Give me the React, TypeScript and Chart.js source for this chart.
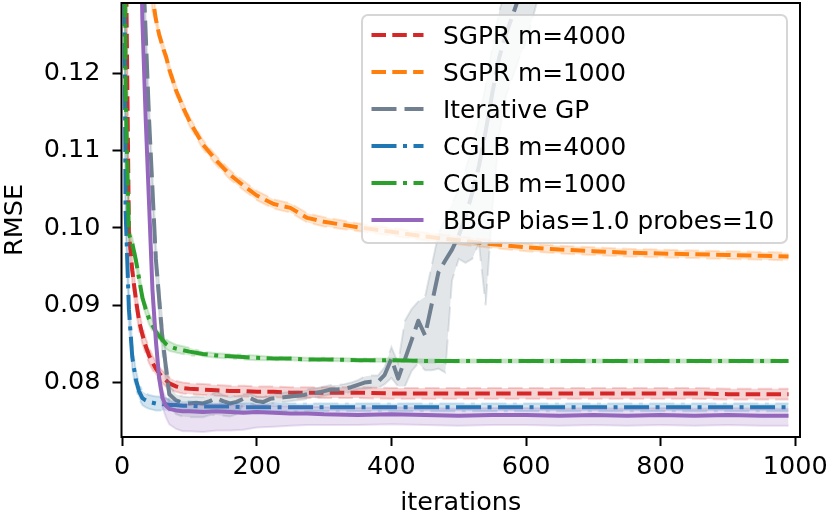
import { useEffect, useRef } from "react";
import { Chart, registerables } from "chart.js";

Chart.register(...registerables);

// shared iteration grid for the smooth curves
const iterations = [
  0, 5, 10, 15, 20, 25, 30, 35, 40, 45, 50, 55, 60, 65, 70, 80, 90, 100, 120, 140, 160, 180, 200,
  225, 250, 275, 300, 350, 400, 450, 500, 550, 600, 650, 700, 750, 800, 850, 900, 950, 990,
];

const sgpr4000Rmse = [
  0.3, 0.14, 0.0995, 0.0945, 0.091, 0.088, 0.0862, 0.0847, 0.0835, 0.0826,
  0.0818, 0.0812, 0.0807, 0.0803, 0.0799,
  0.0795, 0.0793, 0.0792,
  0.0791, 0.079, 0.0789, 0.0789, 0.0788,
  0.0788, 0.0787, 0.0787, 0.0787,
  0.0787, 0.0786, 0.0786, 0.0786, 0.0786, 0.0786,
  0.0786, 0.0786, 0.0786, 0.0786, 0.0786, 0.0785, 0.0785, 0.0785,
];
const sgpr4000Spread = [
  0.01, 0.004, 0.002, 0.0015, 0.0013, 0.0012, 0.0011, 0.001, 0.001, 0.0009,
  0.0009, 0.0008, 0.0008, 0.0008, 0.0008,
  0.0007, 0.0007, 0.0007,
  0.0007, 0.0007, 0.0007, 0.0007, 0.0007,
  0.0007, 0.0007, 0.0007, 0.0007,
  0.0007, 0.0007, 0.0007, 0.0007, 0.0007, 0.0007,
  0.0007, 0.0007, 0.0007, 0.0007, 0.0007, 0.0007, 0.0007, 0.0007,
];

const sgpr1000Rmse = [
  0.4, 0.3, 0.24, 0.2, 0.175, 0.16, 0.148, 0.14, 0.134, 0.13,
  0.127, 0.125, 0.1235, 0.1222, 0.1205,
  0.1178, 0.1157, 0.1138,
  0.1108, 0.1087, 0.1069, 0.1055, 0.1042,
  0.1031, 0.1026, 0.1013, 0.1008,
  0.1001, 0.0995, 0.0989, 0.0984, 0.0979, 0.0975,
  0.0972, 0.097, 0.0968, 0.0967, 0.0966, 0.0965, 0.0964, 0.0963,
];
const sgpr1000Spread = [
  0.002, 0.002, 0.002, 0.002, 0.002, 0.002, 0.002, 0.002, 0.002, 0.002,
  0.0006, 0.0006, 0.0006, 0.0006, 0.0006,
  0.0006, 0.0006, 0.0006,
  0.0006, 0.0006, 0.0006, 0.0006, 0.0006,
  0.0006, 0.0006, 0.0006, 0.0006,
  0.0005, 0.0005, 0.0005, 0.0005, 0.0005, 0.0005,
  0.0005, 0.0005, 0.0005, 0.0005, 0.0005, 0.0005, 0.0005, 0.0005,
];

const cglb4000Rmse = [
  0.2, 0.1025, 0.0895, 0.0833, 0.0805, 0.0789, 0.078, 0.0777, 0.0775, 0.0774,
  0.0773, 0.0773, 0.0772, 0.0772, 0.0771,
  0.0771, 0.077, 0.077,
  0.0769, 0.0769, 0.0769, 0.0768, 0.0768,
  0.0768, 0.0768, 0.0768, 0.0768,
  0.0768, 0.0768, 0.0768, 0.0768, 0.0768, 0.0768,
  0.0768, 0.0768, 0.0768, 0.0768, 0.0768, 0.0768, 0.0768, 0.0768,
];
const cglb4000Spread = [
  0.003, 0.002, 0.002, 0.0015, 0.0012, 0.001, 0.0009, 0.0009, 0.0009, 0.0009,
  0.0009, 0.0009, 0.0008, 0.0008, 0.0007,
  0.0006, 0.0006, 0.0006,
  0.0005, 0.0005, 0.0005, 0.0005, 0.0005,
  0.0005, 0.0005, 0.0005, 0.0005,
  0.0005, 0.0005, 0.0005, 0.0005, 0.0005, 0.0005,
  0.0005, 0.0005, 0.0005, 0.0005, 0.0005, 0.0005, 0.0005, 0.0005,
];

const cglb1000Rmse = [
  0.25, 0.118, 0.0992, 0.098, 0.096, 0.0935, 0.091, 0.0895, 0.0882, 0.0874,
  0.0866, 0.086, 0.0855, 0.085, 0.0847,
  0.0844, 0.0842, 0.084,
  0.0837, 0.0835, 0.0834, 0.0833, 0.0832,
  0.0831, 0.0831, 0.083, 0.083,
  0.0829, 0.0829, 0.0828, 0.0828, 0.0828, 0.0828,
  0.0828, 0.0828, 0.0828, 0.0828, 0.0828, 0.0828, 0.0828, 0.0828,
];
const cglb1000Spread = [
  0.003, 0.002, 0.0008, 0.0008, 0.0008, 0.0008, 0.0008, 0.0007, 0.0007, 0.0007,
  0.0006, 0.0006, 0.0006, 0.0006, 0.0006,
  0.0005, 0.0005, 0.0005,
  0.0003, 0.0003, 0.0003, 0.0003, 0.0003,
  0.0002, 0.0002, 0.0002, 0.0002,
  0.0002, 0.0002, 0.0002, 0.0002, 0.0002, 0.0002,
  0.0002, 0.0002, 0.0002, 0.0002, 0.0002, 0.0002, 0.0002, 0.0002,
];

const bbgpRmse = [
  0.4, 0.35, 0.3, 0.25, 0.18, 0.15, 0.127, 0.114, 0.103, 0.092,
  0.0855, 0.0805, 0.078, 0.077, 0.0766,
  0.0764, 0.0763, 0.0763,
  0.0762, 0.0763, 0.0762, 0.0761, 0.0762,
  0.0761, 0.076, 0.076, 0.0759,
  0.0758, 0.0759, 0.0758, 0.0757, 0.0758, 0.0758,
  0.0757, 0.0758, 0.0757, 0.0758, 0.0757, 0.0758, 0.0757, 0.0757,
];
const bbgpDown = [
  0.001, 0.001, 0.001, 0.001, 0.001, 0.001, 0.001, 0.001, 0.001, 0.001,
  0.001, 0.001, 0.0012, 0.0015, 0.002,
  0.0024, 0.0026, 0.0026,
  0.0026, 0.0025, 0.0024, 0.0022, 0.002,
  0.0018, 0.0016, 0.0015, 0.0014,
  0.0013, 0.0013, 0.0013, 0.0013, 0.0013, 0.0013,
  0.0013, 0.0013, 0.0013, 0.0013, 0.0013, 0.0013, 0.0013, 0.0013,
];
const bbgpUp = [
  0.001, 0.001, 0.001, 0.001, 0.001, 0.001, 0.001, 0.001, 0.001, 0.001,
  0.001, 0.001, 0.001, 0.001, 0.001,
  0.0009, 0.0009, 0.0009,
  0.0009, 0.0009, 0.0009, 0.0009, 0.0009,
  0.0009, 0.0009, 0.0009, 0.0009,
  0.0009, 0.0009, 0.0009, 0.0009, 0.0009, 0.0009,
  0.0009, 0.0009, 0.0009, 0.0009, 0.0009, 0.0009, 0.0009, 0.0009,
];

// Iterative GP is noisy, so it has its own finer grid
const iterGpIters = [
  0, 10, 20, 30, 40, 50, 60, 70,
  80, 90, 100, 110, 120, 130, 140, 150, 160, 170,
  180, 190,
  200, 210, 220, 230, 240, 250, 260, 270, 280, 290, 300, 310, 320, 330, 340, 350,
  360, 370, 380, 390, 400, 410, 420, 430, 440, 450, 460, 470, 480, 490, 500, 510, 520, 530, 540,
  550, 560, 570, 580, 590, 600,
  650, 700, 800, 900, 990,
];
const iterGpRmse = [
  0.4, 0.3, 0.2, 0.136, 0.114, 0.096, 0.0855, 0.0785,
  0.0777, 0.0774, 0.0773, 0.0774, 0.0773, 0.0776, 0.078, 0.0776, 0.0773, 0.0775,
  0.0779, 0.078,
  0.0776, 0.0775, 0.0779, 0.078, 0.0781, 0.0782, 0.0783, 0.0784, 0.0786, 0.0787, 0.0789, 0.0791, 0.0791, 0.0792, 0.0794, 0.0797,
  0.08, 0.0801, 0.0801, 0.081, 0.0831, 0.0805, 0.083, 0.0855, 0.088, 0.0861, 0.0902, 0.0943, 0.0958, 0.0972, 0.099, 0.1015, 0.1045, 0.108, 0.1125,
  0.1175, 0.122, 0.125, 0.1275, 0.13, 0.134,
  0.15, 0.16, 0.17, 0.18, 0.19,
];
const iterGpDown = [
  0.002, 0.002, 0.002, 0.002, 0.002, 0.002, 0.002, 0.0015,
  0.0018, 0.0018, 0.0018, 0.0019, 0.0018, 0.0018, 0.0022, 0.0019, 0.0017, 0.0016,
  0.0008, 0.0007,
  0.0006, 0.0006, 0.0006, 0.0006, 0.0006, 0.0006, 0.0006, 0.0006, 0.0006, 0.0006, 0.0006, 0.0006, 0.0006, 0.0006, 0.0006, 0.0006,
  0.0008, 0.0008, 0.0008, 0.0012, 0.0025, 0.001, 0.0035, 0.004, 0.0055, 0.0045, 0.0086, 0.0125, 0.0145, 0.004, 0.003, 0.006, 0.0085, 0.01, 0.0225,
  0.015, 0.01, 0.008, 0.008, 0.008, 0.01,
  0.01, 0.01, 0.01, 0.01, 0.01,
];
const iterGpUp = [
  0.002, 0.002, 0.002, 0.002, 0.002, 0.002, 0.002, 0.0012,
  0.0008, 0.0008, 0.0008, 0.0008, 0.0008, 0.0008, 0.0008, 0.0008, 0.0008, 0.0008,
  0.0006, 0.0006,
  0.0006, 0.0006, 0.0006, 0.0006, 0.0006, 0.0006, 0.0006, 0.0006, 0.0006, 0.0006, 0.0006, 0.0006, 0.0006, 0.0006, 0.0006, 0.0006,
  0.0008, 0.0008, 0.0008, 0.001, 0.0015, 0.002, 0.005, 0.004, 0.0025, 0.005, 0.005, 0.005, 0.0055, 0.006, 0.006, 0.006, 0.006, 0.006, 0.006,
  0.006, 0.006, 0.006, 0.006, 0.006, 0.006,
  0.01, 0.01, 0.01, 0.01, 0.01,
];

const xTicks = [0, 200, 400, 600, 800, 1000];
const yTicks = [0.08, 0.09, 0.1, 0.11, 0.12];

const FONT = "'DejaVu Sans'";
const DASHED = [14.5, 6.3];
const LONG_DASH = [25, 8];
const DASH_DOT = [25, 6.5, 4, 6.5];

const series = [
  { label: "SGPR m=4000", rgb: "214,39,40", dash: DASHED, iters: iterations, rmse: sgpr4000Rmse, down: sgpr4000Spread, up: sgpr4000Spread },
  { label: "SGPR m=1000", rgb: "255,127,14", dash: DASHED, iters: iterations, rmse: sgpr1000Rmse, down: sgpr1000Spread, up: sgpr1000Spread },
  { label: "Iterative GP", rgb: "112,128,144", dash: LONG_DASH, iters: iterGpIters, rmse: iterGpRmse, down: iterGpDown, up: iterGpUp },
  { label: "CGLB m=4000", rgb: "31,119,180", dash: DASH_DOT, iters: iterations, rmse: cglb4000Rmse, down: cglb4000Spread, up: cglb4000Spread },
  { label: "CGLB m=1000", rgb: "44,160,44", dash: DASH_DOT, iters: iterations, rmse: cglb1000Rmse, down: cglb1000Spread, up: cglb1000Spread },
  { label: "BBGP bias=1.0 probes=10", rgb: "148,103,189", dash: [] as number[], iters: iterations, rmse: bbgpRmse, down: bbgpDown, up: bbgpUp },
];

const pts = (xs: number[], ys: number[]) => xs.map((x, i) => ({ x, y: ys[i] }));

// drop the label overhang padding so the plot box sits where matplotlib put it
const noOverhang = (scale: any) => {
  scale.paddingTop = 0;
  scale.paddingBottom = 0;
  scale.paddingLeft = 0;
  scale.paddingRight = 0;
};

// spines on all four sides, like matplotlib
const framePlugin = {
  id: "frame",
  afterDatasetsDraw(chart: Chart) {
    const { ctx, chartArea: a } = chart;
    ctx.save();
    ctx.strokeStyle = "#000";
    ctx.lineWidth = 2;
    ctx.strokeRect(a.left, a.top, a.right - a.left, a.bottom - a.top);
    ctx.restore();
  },
};

// legend box in the upper right of the axes
const legendPlugin = {
  id: "boxLegend",
  afterDraw(chart: Chart) {
    const ctx = chart.ctx;
    const left = 362;
    const top = 15;
    const right = 787;
    const bottom = 243;
    ctx.save();
    ctx.beginPath();
    ctx.roundRect(left, top, right - left, bottom - top, 6);
    ctx.fillStyle = "rgba(255,255,255,0.8)";
    ctx.fill();
    ctx.strokeStyle = "rgba(204,204,204,0.8)";
    ctx.lineWidth = 2;
    ctx.stroke();
    ctx.font = `24.8px ${FONT}`;
    ctx.textBaseline = "alphabetic";
    ctx.textAlign = "left";
    series.forEach((s, i) => {
      const y = 35 + i * 37;
      ctx.beginPath();
      ctx.setLineDash(s.dash);
      ctx.lineDashOffset = 0;
      ctx.lineCap = "butt";
      ctx.strokeStyle = `rgb(${s.rgb})`;
      ctx.lineWidth = 4;
      ctx.moveTo(371.5, y);
      ctx.lineTo(423.5, y);
      ctx.stroke();
      ctx.setLineDash([]);
      ctx.fillStyle = "#000";
      ctx.fillText(s.label, 443, y + 9.1);
    });
    ctx.restore();
  },
};

export default function App() {
  const ref = useRef<HTMLCanvasElement>(null);

  useEffect(() => {
    if (!ref.current) return;

    const datasets: any[] = [];
    series.forEach((s, k) => {
      const base = 100 - 10 * k;
      const band = {
        borderColor: `rgba(${s.rgb},0.2)`,
        backgroundColor: `rgba(${s.rgb},0.2)`,
        borderWidth: 2,
        borderDash: s.dash,
        borderCapStyle: "butt",
        pointRadius: 0,
        tension: 0,
        order: base + 1,
        clip: 0,
      };
      datasets.push({ ...band, data: pts(s.iters, s.rmse.map((v, i) => v + s.up[i])), fill: "+1" });
      datasets.push({ ...band, data: pts(s.iters, s.rmse.map((v, i) => v - s.down[i])), fill: false });
      datasets.push({
        label: s.label,
        data: pts(s.iters, s.rmse),
        borderColor: `rgb(${s.rgb})`,
        borderWidth: 4,
        borderDash: s.dash,
        borderCapStyle: "butt",
        borderJoinStyle: "round",
        pointRadius: 0,
        tension: 0,
        fill: false,
        order: base,
        clip: 0,
      });
    });

    const tickFont = { family: FONT, size: 25.5 };

    const chart = new Chart(ref.current, {
      type: "line",
      data: { datasets },
      options: {
        animation: false,
        responsive: true,
        maintainAspectRatio: false,
        layout: { padding: { top: 3, right: 30, bottom: 0, left: 0 } },
        plugins: {
          legend: { display: false },
          tooltip: { enabled: false },
        },
        scales: {
          x: {
            type: "linear",
            min: -1,
            max: 1007,
            afterBuildTicks: (scale: any) => {
              scale.ticks = xTicks.map((value) => ({ value }));
            },
            afterFit: (scale: any) => {
              scale.height = 81;
              noOverhang(scale);
            },
            ticks: { color: "#000", font: tickFont, padding: 6, maxRotation: 0, callback: (v: any) => String(v) },
            grid: { drawOnChartArea: false, drawTicks: true, tickLength: 9, tickWidth: 2, tickColor: "#000" },
            border: { display: false },
            title: { display: true, text: "iterations", color: "#000", font: { family: FONT, size: 25.5 }, padding: { top: 0, bottom: -1 } },
          },
          y: {
            type: "linear",
            min: 0.07296,
            max: 0.1291,
            afterBuildTicks: (scale: any) => {
              scale.ticks = yTicks.map((value) => ({ value }));
            },
            afterFit: (scale: any) => {
              scale.width = 121.5;
              noOverhang(scale);
            },
            ticks: { color: "#000", font: tickFont, padding: 12, callback: (v: any) => Number(v).toFixed(2) },
            grid: { drawOnChartArea: false, drawTicks: true, tickLength: 9, tickWidth: 2, tickColor: "#000" },
            border: { display: false },
            title: { display: true, text: "RMSE", color: "#000", font: { family: FONT, size: 25.5 }, padding: { top: 0, bottom: 0 } },
          },
        },
      } as any,
      plugins: [framePlugin, legendPlugin],
    });

    return () => chart.destroy();
  }, []);

  return (
    <div style={{ position: "absolute", left: 0, top: 0, width: 830, height: 518 }}>
      <canvas ref={ref} />
    </div>
  );
}
